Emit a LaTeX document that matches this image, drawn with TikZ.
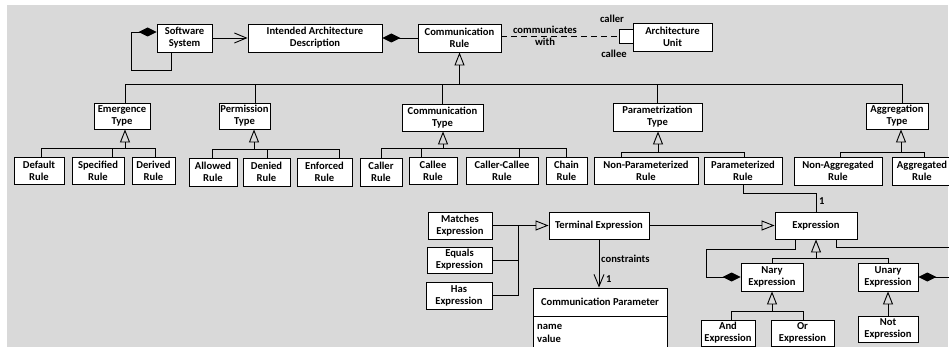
\documentclass[tikz,border=0pt]{standalone}
\usepackage{fontspec}
\setmainfont{Carlito}
\usetikzlibrary{arrows.meta}
\newcommand\ubox[6]{\pgfmathsetmacro\uBW{#4-#2}\pgfmathsetmacro\uBH{#5-#3}%
  \node[box,minimum width=\uBW pt,minimum height=\uBH pt] (#1) at ({(#2+#4)/2},{(#3+#5)/2}) {#6};}
\tikzset{
  box/.style={draw=black,fill=white,line width=0.9pt,inner sep=0.5pt,align=center,
    font=\bfseries\fontsize{10.6}{12.2}\selectfont},
  lbl/.style={inner sep=0pt,font=\bfseries\fontsize{10.6}{12.2}\selectfont,align=center},
  ln/.style={line width=0.9pt,draw=black},
  gen/.style={ln,-{Triangle[open,length=13pt,width=10pt,line width=0.9pt]}},
  nav/.style={ln,-{Straight Barb[length=12pt,width=10pt,line width=0.9pt]}},
  compend/.style={ln,-{Diamond[length=18pt,width=9pt]}},
  compstart/.style={ln,{Diamond[length=18pt,width=9pt]}-},
}
\begin{document}
\begin{tikzpicture}[x=1pt,y=-1pt]
\useasboundingbox (0,0) rectangle (949,347);
\clip (0,0) rectangle (949,347);
\fill[fill={rgb,255:red,217;green,217;blue,217}] (7,5) rectangle (948,347);

% top row
\ubox{ss}{157}{24}{212}{52}{Software\\System}
\ubox{iad}{248}{24}{382}{52}{Intended Architecture\\Description}
\ubox{cr}{418}{24}{501}{52}{Communication\\Rule}
\ubox{au}{633}{23}{712}{51}{Architecture\\Unit}
\ubox{q}{619}{29}{633}{43}{}
\node[lbl] (lcomm) at (545,30) {communicates};
\node[lbl] (lwith) at (545,42) {with};
\node[lbl] (lcaller) at (612,19) {caller};
\node[lbl] (lcallee) at (614,54) {callee};

\coordinate (sl) at (131,70);
\draw[compend] ([xshift=-13.5pt]ss.south) |- (sl) |- ([yshift=6pt]ss.west);
\draw[nav] (ss.east) -- (iad.west);
\draw[compstart] (iad.east) -- (cr.west);
\draw[ln,dash pattern=on 6pt off 4pt] (cr.east |- q.west) -- (q.west);

% type boxes
\ubox{et}{94}{103}{150}{129}{Emergence\\Type}
\ubox{ptp}{219}{103}{270}{129}{Permission\\Type}
\ubox{ct}{402}{104}{483}{131}{Communication\\Type}
\ubox{pzt}{613}{103}{702}{131}{Parametrization\\Type}
\ubox{agt}{866}{103}{928}{129}{Aggregation\\Type}

\coordinate (tb) at (459,84);
\draw[gen] (cr.south |- tb) -- (cr.south);
\draw[ln] ([xshift=3pt]et.north) |- ([xshift=5pt]agt.north |- tb) -- ([xshift=5pt]agt.north);
\draw[ln] ([xshift=10.5pt]ptp.north) -- ([xshift=10.5pt]ptp.north |- tb);
\draw[ln] (ct.north) -- (ct.north |- tb);
\draw[ln] (pzt.north) -- (pzt.north |- tb);

% rule boxes
\ubox{dr}{14}{157}{64}{184}{Default\\Rule}
\ubox{sr}{72}{157}{124}{184}{Specified\\Rule}
\ubox{der}{132}{157}{175}{184}{Derived\\Rule}
\ubox{alr}{189}{158}{237}{186}{Allowed\\Rule}
\ubox{dnr}{243}{158}{290}{186}{Denied\\Rule}
\ubox{enr}{297}{158}{352}{186}{Enforced\\Rule}
\ubox{clr}{360}{158}{402}{186}{Caller\\Rule}
\ubox{cer}{409}{157}{457}{184}{Callee\\Rule}
\ubox{ccr}{466}{157}{538}{184}{Caller-Callee\\Rule}
\ubox{chr}{546}{157}{587}{184}{Chain\\Rule}
\ubox{npr}{594}{157}{698}{184}{Non-Parameterized\\Rule}
\ubox{pr}{704}{157}{782}{184}{Parameterized\\Rule}
\ubox{nar}{794}{157}{882}{185}{Non-Aggregated\\Rule}
\ubox{agr}{892}{157}{952}{185}{Aggregated\\Rule}

% emergence
\coordinate (bE) at (125,148.5);
\draw[gen] (bE) -- (bE |- et.south);
\draw[ln] ([xshift=2pt]dr.north) |- ([xshift=1.5pt]der.north |- bE) -- ([xshift=1.5pt]der.north);
\draw[ln] ([xshift=14pt]sr.north) -- ([xshift=14pt]sr.north |- bE);
% permission
\coordinate (bP) at (254,149);
\draw[gen] (bP) -- (bP |- ptp.south);
\draw[ln] ([xshift=-1pt]alr.north) |- ([xshift=14.5pt]enr.north |- bP) -- ([xshift=14.5pt]enr.north);
\draw[ln] ([xshift=0.5pt]dnr.north) -- ([xshift=0.5pt]dnr.north |- bP);
% communication
\coordinate (bC) at (443,148);
\draw[gen] (bC) -- (bC |- ct.south);
\draw[ln] (clr.north) |- (chr.north |- bC) -- (chr.north);
\draw[ln] ([xshift=-12pt]cer.north) -- ([xshift=-12pt]cer.north |- bC);
\draw[ln] ([xshift=17pt]ccr.north) -- ([xshift=17pt]ccr.north |- bC);
% parametrization
\coordinate (bZ) at (658,152);
\draw[gen] (bZ) -- (bZ |- pzt.south);
\draw[ln] ([xshift=-25pt]npr.north) |- ([xshift=1pt]pr.north |- bZ) -- ([xshift=1pt]pr.north);
% aggregation
\coordinate (bA) at (901,152);
\draw[gen] (bA) -- (bA |- agt.south);
\draw[ln] ([xshift=2pt]nar.north) |- ([xshift=2pt]agr.north |- bA) -- ([xshift=2pt]agr.north);

% expressions
\ubox{mat}{428}{212}{492}{239}{Matches\\Expression}
\ubox{equ}{427}{247}{492}{273}{Equals\\Expression}
\ubox{has}{426}{282}{492}{309}{Has\\Expression}
\ubox{term}{549}{212}{649}{239}{Terminal Expression}
\ubox{expr}{775}{212}{857}{239}{Expression}
\ubox{cp}{533}{288}{667}{316}{Communication Parameter}
\ubox{cpa}{533}{316}{667}{352}{}
\node[lbl,anchor=west] (lname) at (537,327) {name};
\node[lbl,anchor=west] (lvalue) at (537,339) {value};
\ubox{nary}{741}{263}{803}{291}{Nary\\Expression}
\ubox{unary}{858}{263}{918}{291}{Unary\\Expression}
\ubox{andx}{701}{320}{755}{346}{And\\Expression}
\ubox{orx}{771}{320}{834}{346}{Or\\Expression}
\ubox{notx}{858}{316}{918}{342}{Not\\Expression}

\coordinate (jn) at (518,225.5);
\draw[ln] (mat.east) -- (jn);
\draw[ln] (equ.east) -| (jn);
\draw[ln] (has.east) -| (jn);
\draw[gen] (jn) -- (term.west);
\draw[gen] (term.east) -- (expr.west);
\draw[nav] (term.south) -- (term.south |- cp.north);
\node[lbl,anchor=west] (lcons) at (601,259) {constraints};
\node[lbl,anchor=west] (lone1) at (606,279) {1};

\coordinate (pe) at (816,193);
\draw[ln] (pr.south) |- (pe) -- (expr.north);
\node[lbl,anchor=west] (lone2) at (819,201) {1};

\coordinate (bX) at (816,258);
\draw[gen] (bX) -- (bX |- expr.south);
\draw[ln] (nary.north) |- (unary.north |- bX) -- (unary.north);

\coordinate (nl) at (706,249);
\draw[compend] ([xshift=-21pt]expr.south) |- (nl) |- (nary.west);
\coordinate (ue1) at (960,247);
\coordinate (ue2) at (960,277);
\draw[ln] ([xshift=20pt]expr.south) |- (ue1);
\draw[compstart] (unary.east) -- (ue2);

\coordinate (bN) at (772,311);
\draw[gen] (bN) -- (bN |- nary.south);
\draw[ln] ([xshift=3pt]andx.north) |- ([xshift=0.5pt]orx.north |- bN) -- ([xshift=0.5pt]orx.north);
\draw[gen] (notx.north) -- (unary.south);
\end{tikzpicture}
\end{document}
